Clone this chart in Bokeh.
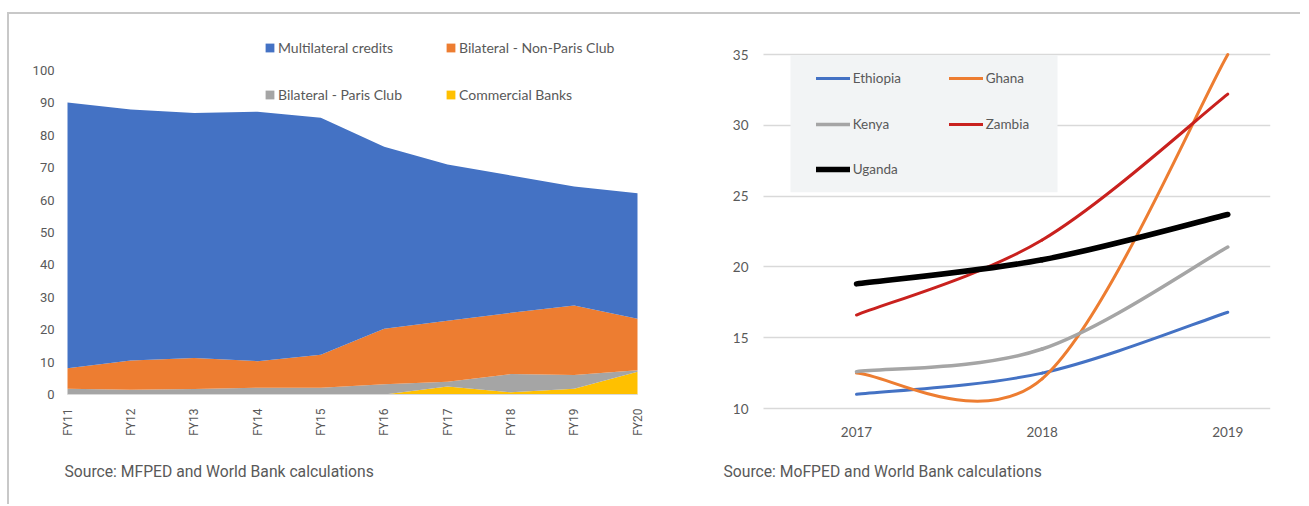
import math
from bokeh.plotting import figure
from bokeh.models import (ColumnDataSource, Range1d, FixedTicker, Legend, LegendItem,
                          Label, BoxAnnotation, Spacer, Grid)
from bokeh.layouts import row, column
from bokeh.embed import file_html
from bokeh.resources import INLINE

# ---------------- data: left chart (share of public debt, %) ----------------
fiscal_years = ["FY11", "FY12", "FY13", "FY14", "FY15", "FY16", "FY17", "FY18", "FY19", "FY20"]
multilateral = [82.0, 77.5, 75.6, 77.0, 73.1, 56.2, 48.2, 42.4, 36.7, 38.7]
non_paris = [6.3, 9.0, 9.6, 8.2, 10.2, 17.1, 18.9, 18.9, 21.5, 15.9]
paris = [1.8, 1.5, 1.7, 2.1, 2.1, 3.2, 1.4, 5.6, 4.2, 0.5]
commercial = [0.0, 0.0, 0.0, 0.0, 0.0, 0.0, 2.5, 0.7, 1.8, 7.0]
area_names = ["Multilateral credits", "Bilateral - Non-Paris Club",
              "Bilateral - Paris Club", "Commercial Banks"]
area_colors = ["#4472C4", "#ED7D31", "#A5A5A5", "#FFC000"]
left_y_ticks = [0, 10, 20, 30, 40, 50, 60, 70, 80, 90, 100]

# ---------------- data: right chart ----------------
years = [2017, 2018, 2019]
ethiopia = [11.0, 12.5, 16.8]
ghana = [12.5, 12.1, 35.0]
kenya = [12.6, 14.2, 21.4]
zambia = [16.6, 21.9, 32.2]
uganda = [18.8, 20.5, 23.7]
countries = ["Ethiopia", "Ghana", "Kenya", "Zambia", "Uganda"]
country_values = [ethiopia, ghana, kenya, zambia, uganda]
country_colors = ["#4472C4", "#ED7D31", "#A5A5A5", "#C9211E", "#000000"]
country_widths = [3, 3, 3.5, 3, 5.5]
right_y_ticks = [10, 15, 20, 25, 30, 35]

TXT = "#595959"
FONT_NUM = "Lato"
FONT_SRC = "Roboto"


def range_from_pixels(frame_lo, frame_hi, px_a, val_a, px_b, val_b):
    """Data range so that val_a lands at pixel px_a and val_b at px_b (linear)."""
    k = (val_b - val_a) / (px_b - px_a)
    return val_a + (frame_lo - px_a) * k, val_a + (frame_hi - px_a) * k


# page geometry (pixels from top-left of the page)
FIG_TOP = 14
FIG_H = 490
FRAME_TOP, FRAME_BOTTOM = 30, 490

# ================= LEFT FIGURE =================
P1_X0, P1_W = 9, 646
P1_FL, P1_FR = 58, 652
xs1 = range_from_pixels(P1_FL, P1_FR, 67, 0, 637, len(fiscal_years) - 1)
ys1 = range_from_pixels(FRAME_BOTTOM, FRAME_TOP, 394, 0, 70, 100)
p1 = figure(width=P1_W, height=FIG_H, output_backend="svg", toolbar_location=None,
            x_range=Range1d(*xs1), y_range=Range1d(*ys1),
            min_border_left=P1_FL - P1_X0, min_border_right=P1_X0 + P1_W - P1_FR,
            min_border_top=FRAME_TOP - FIG_TOP,
            min_border_bottom=FIG_TOP + FIG_H - FRAME_BOTTOM)
p1.outline_line_color = None
p1.xgrid.visible = False
p1.ygrid.visible = False

src = ColumnDataSource(dict(x=list(range(len(fiscal_years))), commercial=commercial,
                            paris=paris, non_paris=non_paris, multilateral=multilateral))
rs = p1.varea_stack(["commercial", "paris", "non_paris", "multilateral"], x="x",
                    color=[area_colors[3], area_colors[2], area_colors[1], area_colors[0]],
                    source=src)
r_comm, r_paris, r_nonparis, r_multi = rs

p1.xaxis.fixed_location = 0
p1.xaxis.bounds = (0, len(fiscal_years) - 1)
p1.xaxis.ticker = FixedTicker(ticks=list(range(len(fiscal_years))))
p1.xaxis.major_label_overrides = {i: fy for i, fy in enumerate(fiscal_years)}
p1.xaxis.major_label_orientation = math.pi / 2
p1.xaxis.axis_line_color = "#D9D9D9"
p1.xaxis.major_tick_line_color = None
p1.xaxis.minor_tick_line_color = None
p1.xaxis.major_tick_out = 0
p1.xaxis.major_tick_in = 0
p1.xaxis.major_label_standoff = 14
p1.xaxis.major_label_text_font = FONT_SRC
p1.xaxis.major_label_text_font_size = "12px"
p1.xaxis.major_label_text_color = TXT

p1.yaxis.ticker = FixedTicker(ticks=left_y_ticks)
p1.yaxis.axis_line_color = None
p1.yaxis.major_tick_line_color = None
p1.yaxis.minor_tick_line_color = None
p1.yaxis.major_tick_out = 0
p1.yaxis.major_tick_in = 0
p1.yaxis.major_label_standoff = 4
p1.yaxis.major_label_text_font = FONT_SRC
p1.yaxis.major_label_text_font_size = "13px"
p1.yaxis.major_label_text_color = TXT

leg_kw = dict(orientation="horizontal", glyph_width=11, glyph_height=11, label_height=11,
              label_width=167, label_standoff=3, spacing=0, padding=0, margin=0,
              border_line_color=None, background_fill_alpha=0,
              label_text_font=FONT_NUM, label_text_font_size="14px", label_text_color=TXT)
leg1 = Legend(items=[LegendItem(label=area_names[0], renderers=[r_multi]),
                     LegendItem(label=area_names[1], renderers=[r_nonparis])],
              location=(206, FRAME_BOTTOM - 56), **leg_kw)
leg2 = Legend(items=[LegendItem(label=area_names[2], renderers=[r_paris]),
                     LegendItem(label=area_names[3], renderers=[r_comm])],
              location=(206, FRAME_BOTTOM - 103), **leg_kw)
p1.add_layout(leg1)
p1.add_layout(leg2)

p1.add_layout(Label(x=64 - P1_FL, y=FRAME_BOTTOM - 471, x_units="screen", y_units="screen",
                    text="Source: MFPED and World Bank calculations",
                    text_font=FONT_SRC, text_font_size="15.7px", text_color=TXT,
                    text_baseline="middle", text_align="left"))

# ================= RIGHT FIGURE =================
P2_X0, P2_W = P1_X0 + P1_W, 645
HAS_CROSS = "cross_bounds" in Grid.properties()
P2_FL = 715 if HAS_CROSS else 763
P2_FR = 1270
xs2 = range_from_pixels(P2_FL, P2_FR, 856, 2017, 1227.3, 2019)
ys2 = range_from_pixels(FRAME_BOTTOM, FRAME_TOP, 408, 10, 54, 35)
axis_x_val = range_from_pixels(763, 763, 856, 2017, 1227.3, 2019)[0]
p2 = figure(width=P2_W, height=FIG_H, output_backend="svg", toolbar_location=None,
            x_range=Range1d(*xs2), y_range=Range1d(*ys2),
            min_border_left=P2_FL - P2_X0, min_border_right=P2_X0 + P2_W - P2_FR,
            min_border_top=FRAME_TOP - FIG_TOP,
            min_border_bottom=FIG_TOP + FIG_H - FRAME_BOTTOM)
p2.outline_line_color = None
p2.xgrid.visible = False
p2.ygrid.grid_line_color = "#D9D9D9"
p2.ygrid.grid_line_width = 1.5
p2.ygrid.ticker = FixedTicker(ticks=right_y_ticks)
if HAS_CROSS:
    p2.ygrid.cross_bounds = (axis_x_val, xs2[1])

for ax in (p2.xaxis, p2.yaxis):
    ax.axis_line_color = None
    ax.major_tick_line_color = None
    ax.minor_tick_line_color = None
    ax.major_tick_out = 0
    ax.major_tick_in = 0
    ax.major_label_text_font = FONT_NUM
    ax.major_label_text_font_size = "13.5px"
    ax.major_label_text_color = TXT
p2.xaxis.fixed_location = 10
p2.xaxis.ticker = FixedTicker(ticks=years)
p2.xaxis.major_label_standoff = 18
p2.yaxis.ticker = FixedTicker(ticks=right_y_ticks)
p2.yaxis.major_label_standoff = 15
if HAS_CROSS:
    p2.yaxis.fixed_location = axis_x_val


def smooth_segments(xs, ys, k=1.0 / 6.0):
    """Cubic Bezier segments through the data points (Catmull-Rom style)."""
    n = len(xs)
    out = dict(x0=[], y0=[], x1=[], y1=[], cx0=[], cy0=[], cx1=[], cy1=[])
    for i in range(n - 1):
        xp, yp = (xs[i - 1], ys[i - 1]) if i > 0 else (xs[i], ys[i])
        xn, yn = (xs[i + 2], ys[i + 2]) if i + 2 < n else (xs[i + 1], ys[i + 1])
        out["x0"].append(xs[i]); out["y0"].append(ys[i])
        out["x1"].append(xs[i + 1]); out["y1"].append(ys[i + 1])
        out["cx0"].append(xs[i] + (xs[i + 1] - xp) * k)
        out["cy0"].append(ys[i] + (ys[i + 1] - yp) * k)
        out["cx1"].append(xs[i + 1] - (xn - xs[i]) * k)
        out["cy1"].append(ys[i + 1] - (yn - ys[i]) * k)
    return out


line_r = {}
for name, vals, col, w in zip(countries, country_values, country_colors, country_widths):
    seg = ColumnDataSource(smooth_segments(years, vals))
    line_r[name] = p2.bezier(x0="x0", y0="y0", x1="x1", y1="y1", cx0="cx0", cy0="cy0",
                             cx1="cx1", cy1="cy1", source=seg, line_color=col,
                             line_width=w, line_cap="round")

p2.add_layout(BoxAnnotation(left=790 - P2_FL, right=1057 - P2_FL,
                            top=FRAME_BOTTOM - 54.5, bottom=FRAME_BOTTOM - 191.7,
                            left_units="screen", right_units="screen",
                            top_units="screen", bottom_units="screen",
                            fill_color="#F2F4F5", fill_alpha=1.0, line_color=None))

rleg_kw = dict(orientation="horizontal", glyph_width=34, glyph_height=20, label_height=20,
               label_width=96, label_standoff=3, spacing=0, padding=0, margin=0,
               border_line_color=None, background_fill_alpha=0,
               label_text_font=FONT_NUM, label_text_font_size="13.5px", label_text_color=TXT)
legend_rows = [(countries[0:2], 88.3), (countries[2:4], 134), (countries[4:5], 179.3)]
for names, bottom_px in legend_rows:
    p2.add_layout(Legend(items=[LegendItem(label=n, renderers=[line_r[n]]) for n in names],
                         location=(815.7 - P2_FL, FRAME_BOTTOM - bottom_px), **rleg_kw))

p2.add_layout(Label(x=max(723 - P2_FL, 0), y=FRAME_BOTTOM - 471,
                    x_units="screen", y_units="screen",
                    text="Source: MoFPED and World Bank calculations",
                    text_font=FONT_SRC, text_font_size="15.7px", text_color=TXT,
                    text_baseline="middle", text_align="left"))

inner = row(p1, p2, styles={"border-top": "2px solid #C8C8C8",
                            "border-left": "2px solid #C8C8C8"})
layout = column(Spacer(height=12), row(Spacer(width=7), inner))

open("out.html", "w").write(file_html(layout, INLINE))
